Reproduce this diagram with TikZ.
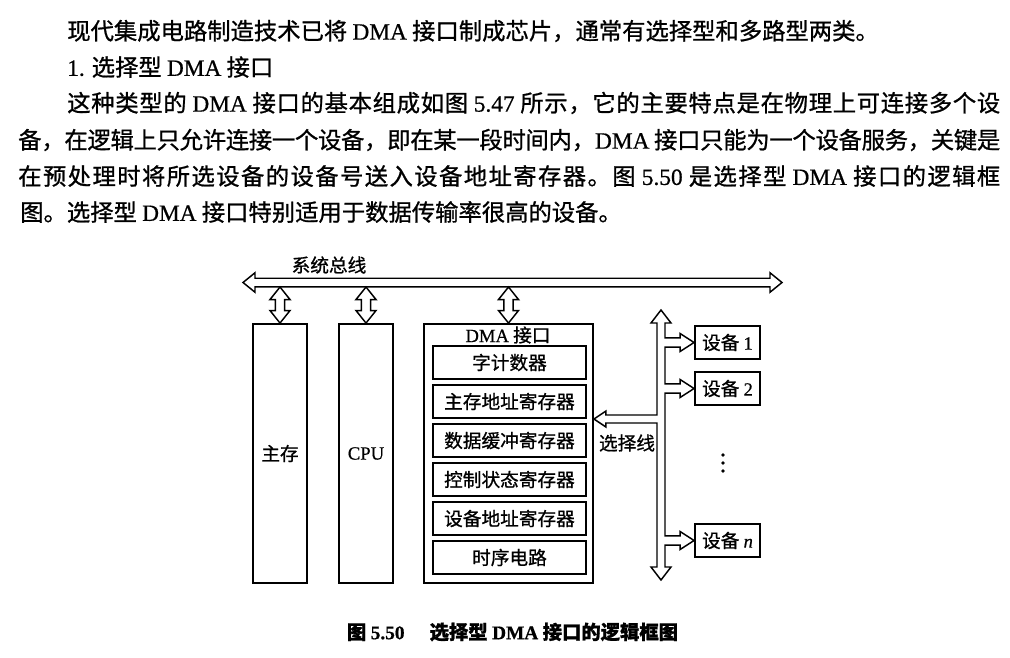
\documentclass[tikz,border=0pt]{standalone}
\usepackage{fontspec}
\setmainfont{Liberation Serif}
\newfontfamily\cjk[FakeBold=0.9]{Noto Sans CJK SC}
\newfontfamily\latf[FakeBold=0.6]{Liberation Serif}
\newcommand\latn[1]{{\latf #1}}
\usetikzlibrary{calc}
% stretchable glue between CJK characters
\XeTeXinterchartokenstate=1
\newcount\cjkc
\cjkc="4E00
\loop \XeTeXcharclass\cjkc=1 \advance\cjkc by 1 \ifnum\cjkc<"A000 \repeat
\XeTeXcharclass"3001=1 \XeTeXcharclass"3002=1 \XeTeXcharclass"FF0C=1
\XeTeXinterchartoks 1 1 = {\hskip 0pt plus 3pt minus 0.6pt\relax}
\tikzset{
  box/.style={draw, line width=1.4pt, inner sep=0pt, font=\cjk\fontsize{14pt}{16pt}\selectfont},
  hollow/.style={draw, line width=1.1pt, fill=white, line join=miter},
  para/.style={anchor=west, inner sep=0pt, font=\cjk\fontsize{17.5pt}{20pt}\selectfont},
  lbl/.style={inner sep=0pt, font=\cjk\fontsize{14pt}{16pt}\selectfont},
  reg/.style={box, minimum width=114.75pt, minimum height=24.75pt},
  dev/.style={box, minimum width=48.75pt, minimum height=24.75pt},
  tall/.style={box, minimum width=40.5pt, minimum height=194.25pt},
}
\newcommand\vdarrow[2]{\draw[hollow] let \p1=(#1),\p2=(#2) in
  (\x1,\y1) -- (\x1+7.5pt,\y1-9.4pt) -- (\x1+3.4pt,\y1-9.4pt) -- (\x1+3.4pt,\y2+9.4pt)
  -- (\x1+7.5pt,\y2+9.4pt) -- (\x1,\y2) -- (\x1-7.5pt,\y2+9.4pt) -- (\x1-3.4pt,\y2+9.4pt)
  -- (\x1-3.4pt,\y1-9.4pt) -- (\x1-7.5pt,\y1-9.4pt) -- cycle;}
\begin{document}
\begin{tikzpicture}[x=0.75pt,y=-0.75pt]
\fill[white] (0,0) rectangle (1010,657);
\useasboundingbox (0,0) rectangle (1010,657);

% text
\node[para] (l1) at (67,31) {现代集成电路制造技术已将 \latn{DMA} 接口制成芯片，通常有选择型和多路型两类。};
\node[para] (l2) at (67,67) {\latn{1.} 选择型 \latn{DMA} 接口};
\node[para] (l3) at (67,103) {\hbox to 699.75pt{这种类型的 \latn{DMA} 接口的基本组成如图 \latn{5.47} 所示，它的主要特点是在物理上可连接多个设}};
\node[para] (l4) at (18,140) {\hbox to 736.5pt{备，在逻辑上只允许连接一个设备，即在某一段时间内，\latn{DMA} 接口只能为一个设备服务，关键是}};
\node[para] (l5) at (18,176) {\hbox to 736.5pt{在预处理时将所选设备的设备号送入设备地址寄存器。图 \latn{5.50} 是选择型 \latn{DMA} 接口的逻辑框}};
\node[para] (l6) at (20,212) {图。选择型 \latn{DMA} 接口特别适用于数据传输率很高的设备。};

% boxes
\node[tall] (mem) at (280,453.5) {主存};
\node[tall] (cpu) at (366,453.5) {\latn{CPU}};
\node[box, minimum width=126.75pt, minimum height=194.25pt] (dma) at (508.5,453.5) {};
\node[lbl] (dmat) at (508,335) {\latn{DMA} 接口};
\node[reg] (r1) at (509.5,362.5) {字计数器};
\node[reg] (r2) at (509.5,401.5) {主存地址寄存器};
\node[reg] (r3) at (509.5,440.5) {数据缓冲寄存器};
\node[reg] (r4) at (509.5,479.5) {控制状态寄存器};
\node[reg] (r5) at (509.5,518.5) {设备地址寄存器};
\node[reg] (r6) at (509.5,557.5) {时序电路};
\node[dev] (dev1) at (727.5,342.5) {设备 \latn{1}};
\node[dev] (dev2) at (727.5,388.5) {设备 \latn{2}};
\node[dev] (devn) at (727.5,540.5) {设备 \latn{\itshape n}};

% system bus
\coordinate (busL) at (243,282.5);
\coordinate (busR) at (782,282.5);
\coordinate (busS) at (0,287);
\draw[hollow] let \p1=(busL),\p2=(busR) in
  (\x1,\y1) -- (\x1+9pt,\y1+7.3pt) -- (\x1+9pt,\y1+3.2pt) -- (\x2-9pt,\y1+3.2pt)
  -- (\x2-9pt,\y1+7.3pt) -- (\x2,\y1) -- (\x2-9pt,\y1-7.3pt) -- (\x2-9pt,\y1-3.2pt)
  -- (\x1+9pt,\y1-3.2pt) -- (\x1+9pt,\y1-7.3pt) -- cycle;
\node[lbl] (busl) at (329,265) {系统总线};

\vdarrow{mem.north |- busS}{mem.north}
\vdarrow{cpu.north |- busS}{cpu.north}
\vdarrow{dma.north |- busS}{dma.north}

% device bus
\coordinate (sbT) at (661,310);
\coordinate (sbB) at (661,580);
\coordinate (selY) at (0,419);
\draw[hollow] let \p1=(sbT),\p2=(sbB),\p3=(dev1.west),\p4=(dev2.west),\p5=(devn.west),\p6=(dma.east |- selY) in
  (\x1,\y1) -- (\x1+7.5pt,\y1-9.75pt) -- (\x1+3pt,\y1-9.75pt)
  -- (\x1+3pt,\y3+3.4pt) -- (\x3-10.5pt,\y3+3.4pt) -- (\x3-10.5pt,\y3+6.75pt) -- (\x3,\y3)
  -- (\x3-10.5pt,\y3-6.75pt) -- (\x3-10.5pt,\y3-3.4pt) -- (\x1+3pt,\y3-3.4pt)
  -- (\x1+3pt,\y4+3.4pt) -- (\x4-10.5pt,\y4+3.4pt) -- (\x4-10.5pt,\y4+6.75pt) -- (\x4,\y4)
  -- (\x4-10.5pt,\y4-6.75pt) -- (\x4-10.5pt,\y4-3.4pt) -- (\x1+3pt,\y4-3.4pt)
  -- (\x1+3pt,\y5+3.4pt) -- (\x5-10.5pt,\y5+3.4pt) -- (\x5-10.5pt,\y5+6.75pt) -- (\x5,\y5)
  -- (\x5-10.5pt,\y5-6.75pt) -- (\x5-10.5pt,\y5-3.4pt) -- (\x1+3pt,\y5-3.4pt)
  -- (\x1+3pt,\y2+9.75pt) -- (\x1+7.5pt,\y2+9.75pt) -- (\x1,\y2) -- (\x1-7.5pt,\y2+9.75pt) -- (\x1-3pt,\y2+9.75pt)
  -- (\x1-3pt,\y6-3pt) -- (\x6+9pt,\y6-3pt) -- (\x6+9pt,\y6-6pt) -- (\x6,\y6)
  -- (\x6+9pt,\y6+6pt) -- (\x6+9pt,\y6+3pt) -- (\x1-3pt,\y6+3pt)
  -- (\x1-3pt,\y1-9.75pt) -- (\x1-7.5pt,\y1-9.75pt) -- cycle;
\node[lbl] (sell) at (627,443) {选择线};
\fill (723,455) circle (1.4pt);
\fill (723,463) circle (1.4pt);
\fill (723,471) circle (1.4pt);

% caption
\node[inner sep=0pt, font=\cjk\bfseries\fontsize{14.5pt}{16pt}\selectfont] (cap) at (512.5,632)
  {图 {\latf\bfseries 5.50}\hspace{1.3em}选择型 {\latf\bfseries DMA} 接口的逻辑框图};
\end{tikzpicture}
\end{document}
